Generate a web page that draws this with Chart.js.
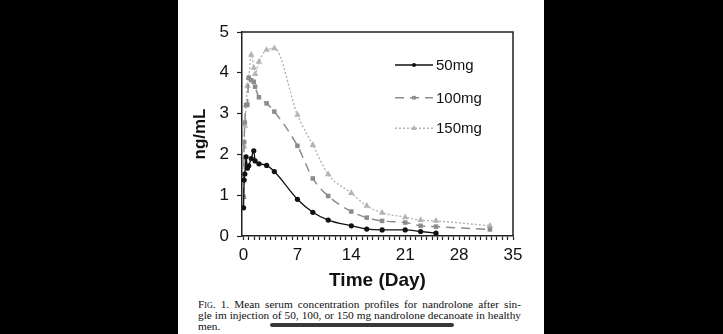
<!DOCTYPE html>
<html>
<head>
<meta charset="utf-8">
<script src="https://cdn.jsdelivr.net/npm/chart.js@4.4.0/dist/chart.umd.min.js"></script>
<style>
  html, body { margin: 0; padding: 0; background: #000; }
  body { width: 723px; height: 334px; position: relative; overflow: hidden; }
  #panel { position: absolute; left: 178px; top: 0; width: 366px; height: 334px; background: #fff; }
  #chart { position: absolute; left: 178px; top: 0; }
  #caption {
    position: absolute; left: 198px; top: 299px; width: 323px;
    font-family: 'Liberation Serif', 'Times New Roman', serif;
    font-size: 11.3px; line-height: 11px; color: #111;
  }
  #caption .j { display: block; text-align: justify; text-align-last: justify; white-space: nowrap; }
  #caption .sc { font-variant: small-caps; }
  #bar { position: absolute; left: 270px; top: 323px; width: 184px; height: 4px; border-radius: 2px; background: #383838; }
</style>
</head>
<body>
<div id="panel"></div>
<canvas id="chart" width="366" height="295"></canvas>
<div id="caption">
  <span class="j"><span class="sc">Fig.</span> 1. Mean serum concentration profiles for nandrolone after sin-</span>
  <span class="j">gle im injection of 50, 100, or 150 mg nandrolone decanoate in healthy</span>
  <span>men.</span>
</div>
<div id="bar"></div>
<script>
// sampling times (days)
const times50 = [0, 0.08, 0.17, 0.33, 0.5, 0.67, 1, 1.33, 1.5, 2, 3, 4, 7, 9, 11, 14, 16, 18, 21, 23, 25];
const times100 = [0, 0.08, 0.17, 0.33, 0.5, 0.67, 1, 1.33, 1.5, 2, 3, 4, 7, 9, 11, 14, 16, 18, 21, 23, 25, 32];
const times150 = [0, 0.08, 0.17, 0.33, 0.5, 0.67, 1, 1.33, 1.5, 2, 3, 4, 7, 9, 11, 14, 16, 18, 21, 23, 25, 32];

// mean concentration (ng/mL)
const conc50 = [0.69, 1.37, 1.52, 1.94, 1.66, 1.72, 1.90, 2.09, 1.84, 1.77, 1.73, 1.58, 0.90, 0.58, 0.39, 0.25, 0.17, 0.15, 0.15, 0.11, 0.07];
const conc100 = [0.96, 2.30, 2.78, 3.21, 3.22, 3.88, 3.82, 3.78, 3.66, 3.40, 3.25, 3.05, 2.21, 1.41, 0.98, 0.60, 0.45, 0.37, 0.33, 0.25, 0.23, 0.16];
const conc150 = [0.96, 2.19, 2.70, 3.20, 3.68, 3.88, 4.44, 4.12, 3.97, 4.27, 4.56, 4.60, 2.97, 2.23, 1.51, 1.05, 0.74, 0.57, 0.46, 0.39, 0.37, 0.25];

const seriesNames = ['50mg', '100mg', '150mg'];
const xLabelTicks = [0, 7, 14, 21, 28, 35];
const xMinorStep = 0.7;
const yTicks = [0, 1, 2, 3, 4, 5];

const FONT = "'Liberation Sans', Arial, sans-serif";
const toPts = (xs, ys) => xs.map((x, i) => ({ x: x, y: ys[i] }));

// box border + legend drawn inside the plot
const boxAndLegend = {
  id: 'boxAndLegend',
  afterDraw(chart) {
    const ctx = chart.ctx;
    const a = chart.chartArea;
    ctx.save();
    ctx.strokeStyle = '#222';
    ctx.lineWidth = 1.5;
    ctx.beginPath();
    ctx.moveTo(a.left, a.top);
    ctx.lineTo(a.right, a.top);
    ctx.lineTo(a.right, a.bottom);
    ctx.stroke();

    const rows = [33, 65.7, 96.3];
    chart.data.datasets.forEach((ds, i) => {
      const y = a.top + rows[i];
      const x0 = a.left + 153, x1 = a.left + 191;
      ctx.strokeStyle = ds.borderColor;
      ctx.lineWidth = ds.borderWidth;
      ctx.setLineDash(ds.borderDash || []);
      ctx.beginPath();
      ctx.moveTo(x0, y);
      ctx.lineTo(x1, y);
      ctx.stroke();
      ctx.setLineDash([]);
      ctx.fillStyle = ds.backgroundColor;
      Chart.helpers.drawPoint(ctx, {
        pointStyle: ds.pointStyle, radius: ds.pointRadius - 0.6, rotation: 0, borderWidth: 0
      }, (x0 + x1) / 2, y);
      ctx.fillStyle = '#111';
      ctx.font = '15px ' + FONT;
      ctx.textBaseline = 'middle';
      ctx.textAlign = 'left';
      ctx.fillText(ds.label, x1 + 3, y + 1);
    });
    ctx.restore();
  }
};

new Chart(document.getElementById('chart').getContext('2d'), {
  type: 'line',
  data: {
    datasets: [{
      label: seriesNames[0],
      data: toPts(times50, conc50),
      borderColor: '#111',
      backgroundColor: '#111',
      borderWidth: 1.3,
      pointStyle: 'circle',
      pointRadius: 2.6,
      pointBorderWidth: 0,
      cubicInterpolationMode: 'monotone'
    }, {
      label: seriesNames[1],
      data: toPts(times100, conc100),
      borderColor: '#8c8c8c',
      backgroundColor: '#8c8c8c',
      borderWidth: 1.5,
      borderDash: [9, 6],
      pointStyle: 'rect',
      pointRadius: 3.2,
      pointBorderWidth: 0,
      cubicInterpolationMode: 'monotone'
    }, {
      label: seriesNames[2],
      data: toPts(times150, conc150),
      borderColor: '#b4b4b4',
      backgroundColor: '#b4b4b4',
      borderWidth: 1.4,
      borderDash: [2, 2],
      pointStyle: 'triangle',
      pointRadius: 3.8,
      pointBorderWidth: 0,
      cubicInterpolationMode: 'monotone'
    }]
  },
  options: {
    responsive: false,
    animation: false,
    devicePixelRatio: 1,
    layout: { padding: { top: 32, right: 31, left: 0, bottom: 0 } },
    plugins: {
      legend: { display: false },
      tooltip: { enabled: false }
    },
    scales: {
      x: {
        type: 'linear',
        min: -0.2,
        max: 35,
        afterFit(scale) { scale.height = 59; },
        afterBuildTicks(scale) {
          const ticks = [];
          for (let i = 0; i * xMinorStep <= 35 + 1e-9; i++) {
            ticks.push({ value: Math.round(i * xMinorStep * 100) / 100 });
          }
          scale.ticks = ticks;
        },
        grid: { display: true, drawOnChartArea: false, drawTicks: true, tickLength: 4, tickColor: '#222', tickWidth: 1.2 },
        border: { display: true, color: '#222', width: 1.5 },
        ticks: {
          autoSkip: false,
          maxRotation: 0,
          padding: 5,
          color: '#111',
          font: { family: FONT, size: 17 },
          callback: (v) => xLabelTicks.find(t => Math.abs(t - v) < 1e-6) !== undefined ? String(Math.round(v)) : ''
        },
        title: {
          display: true,
          text: 'Time (Day)',
          color: '#111',
          font: { family: FONT, size: 19, weight: 'bold' },
          padding: { top: 0, bottom: 3 }
        }
      },
      y: {
        min: 0,
        max: 5,
        afterFit(scale) { scale.width = 64; },
        afterBuildTicks(scale) { scale.ticks = yTicks.map(v => ({ value: v })); },
        grid: { display: true, drawOnChartArea: false, drawTicks: true, tickLength: 5, tickColor: '#222', tickWidth: 1.2 },
        border: { display: true, color: '#222', width: 1.5 },
        ticks: {
          padding: 8,
          color: '#111',
          font: { family: FONT, size: 17 }
        },
        title: {
          display: true,
          text: 'ng/mL',
          color: '#111',
          font: { family: FONT, size: 17, weight: 'bold' },
          padding: { top: 12, bottom: 0 }
        }
      }
    }
  },
  plugins: [boxAndLegend]
});
</script>
</body>
</html>
